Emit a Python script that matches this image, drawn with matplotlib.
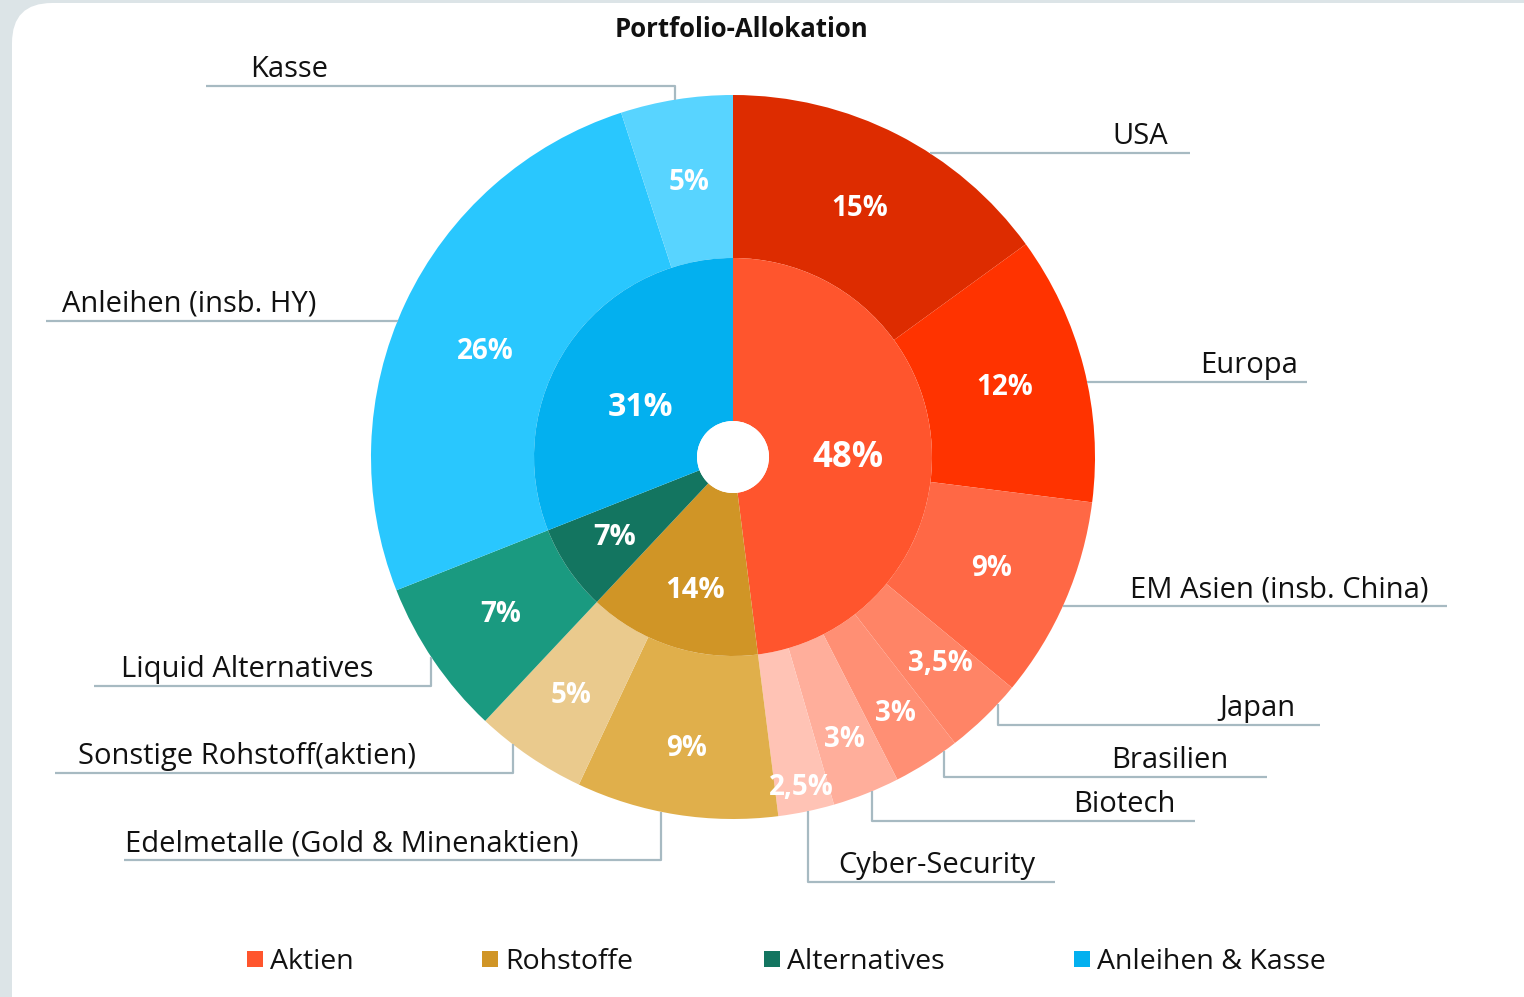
import matplotlib.pyplot as plt
import numpy as np
from matplotlib.patches import FancyBboxPatch, Rectangle

plt.rcParams['font.family'] = ['Open Sans', 'DejaVu Sans']

# data
groups = ['Aktien', 'Rohstoffe', 'Alternatives', 'Anleihen & Kasse']
group_values = [48, 14, 7, 31]
group_colors = ['#ff552d', '#d09526', '#137560', '#03b0ef']

segments = ['USA', 'Europa', 'EM Asien (insb. China)', 'Japan', 'Brasilien', 'Biotech',
            'Cyber-Security', 'Edelmetalle (Gold & Minenaktien)', 'Sonstige Rohstoff(aktien)',
            'Liquid Alternatives', 'Anleihen (insb. HY)', 'Kasse']
segment_values = [15, 12, 9, 3.5, 3, 3, 2.5, 9, 5, 7, 26, 5]
segment_colors = ['#dd2c00', '#ff3300', '#ff6845', '#ff8466', '#ff8f74', '#ffae9b', '#ffc3b5',
                  '#e0af4b', '#eaca8d', '#1a9a80', '#29c7fe', '#58d4ff']

W, H = 1524, 997
CX, CY = 733, H - 457
R_OUT, R_MID, R_HOLE = 362, 199, 36
LINE_C = '#a7bac2'
TEXT_C = '#111111'


def pct(v):
    return ('%g' % v).replace('.', ',') + '%'


fig = plt.figure(figsize=(W / 100, H / 100), dpi=100)
fig.patch.set_facecolor('#dce4e7')
ax = fig.add_axes([0, 0, 1, 1])

ax.add_patch(FancyBboxPatch((12, -200), 1800, H - 3 + 200, boxstyle='round,pad=0,rounding_size=40',
                            fc='white', ec='none'))

outer, _ = ax.pie(segment_values, radius=R_OUT, center=(CX, CY), startangle=90, counterclock=False,
                  colors=segment_colors, wedgeprops=dict(width=R_OUT - R_MID, linewidth=0))
inner, _ = ax.pie(group_values, radius=R_MID, center=(CX, CY), startangle=90, counterclock=False,
                  colors=group_colors, wedgeprops=dict(width=R_MID - R_HOLE, linewidth=0))

ax.set_xlim(0, W)
ax.set_ylim(0, H)
ax.axis('off')

# percentage labels: radius and angle nudge (deg, counterclockwise) per label
outer_r = [279, 280, 282, 293, 304, 304, 338, 295, 288, 281, 269, 278]
outer_da = [0, 0, 0, 1, 0, 0, 0, 0, 0, 0, 2, 0]
inner_r = [115, 139, 143, 105]
inner_da = [-4, 2, 0, 6]
inner_size = [25, 21, 21, 23]


def mid(w, da):
    return np.deg2rad((w.theta1 + w.theta2) / 2 + da)


for w, v, r, da in zip(outer, segment_values, outer_r, outer_da):
    a = mid(w, da)
    ax.text(CX + r * np.cos(a), CY + r * np.sin(a), pct(v), color='white', fontsize=20,
            fontweight='bold', ha='center', va='center')
for w, v, r, da, s in zip(inner, group_values, inner_r, inner_da, inner_size):
    a = mid(w, da)
    ax.text(CX + r * np.cos(a), CY + r * np.sin(a), pct(v), color='white', fontsize=s,
            fontweight='bold', ha='center', va='center')

# leader lines: (vertical x or None, line y, far end x, text x, ha) in reference pixels
leaders = [
    (None, 153, 1190, 1168, 'right'),
    (None, 382, 1307, 1298, 'right'),
    (None, 606, 1447, 1428, 'right'),
    (998, 725, 1320, 1295, 'right'),
    (944, 777, 1267, 1228, 'right'),
    (872, 821, 1195, 1176, 'right'),
    (808, 882, 1055, 838, 'left'),
    (661, 860, 124, 125, 'left'),
    (513, 773, 55, 78, 'left'),
    (431, 686, 94, 121, 'left'),
    (None, 321, 46, 62, 'left'),
    (675, 86, 206, 250, 'left'),
]

for name, (vx, ly, fx, tx, ha) in zip(segments, leaders):
    y = H - ly
    if vx is None:
        dx = np.sqrt(R_OUT ** 2 - (y - CY) ** 2)
        ex = CX + dx if fx > CX else CX - dx
        ax.plot([ex, fx], [y, y], color=LINE_C, lw=1.6, solid_capstyle='butt')
    else:
        dy = np.sqrt(R_OUT ** 2 - (vx - CX) ** 2)
        ey = CY + dy if y > CY else CY - dy
        ax.plot([vx, vx, fx], [ey, y, y], color=LINE_C, lw=1.6, solid_capstyle='butt')
    ax.text(tx, y + 9, name, fontsize=21, color=TEXT_C, ha=ha, va='baseline')

# hole
ax.add_patch(plt.Circle((CX, CY), R_HOLE, color='white', lw=0))

ax.text(741, H - 30, 'Portfolio-Allokation', fontsize=18.5, fontweight='bold', color=TEXT_C,
        ha='center', va='center')

# legend
legend_x = [247, 482, 764, 1074]
for g, c, x in zip(groups, group_colors, legend_x):
    ax.add_patch(Rectangle((x, H - 967), 16, 16, color=c, lw=0))
    ax.text(x + 23, H - 969, g, fontsize=20.5, color=TEXT_C, ha='left', va='baseline')

fig.savefig('out.png', dpi=100, facecolor=fig.get_facecolor())
